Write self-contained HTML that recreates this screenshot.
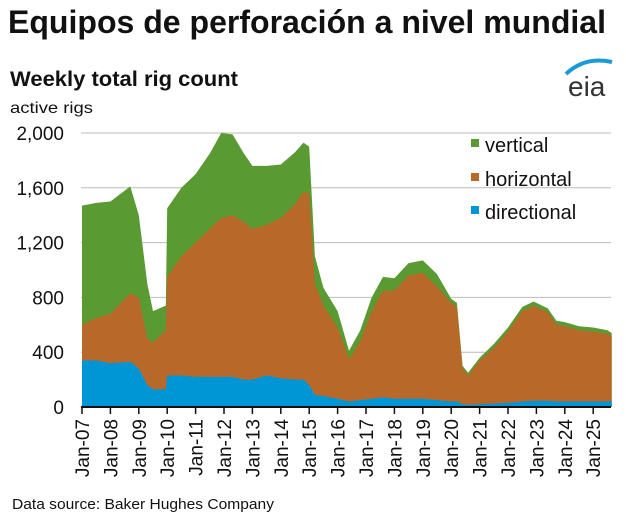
<!DOCTYPE html>
<html><head><meta charset="utf-8"><style>
body{margin:0;width:626px;height:517px;background:#fff;overflow:hidden;font-family:"Liberation Sans",Arial,sans-serif}
</style></head><body>
<svg id="s" width="626" height="517" xmlns="http://www.w3.org/2000/svg" font-family="Liberation Sans, Arial, sans-serif">
<text x="8" y="33" font-size="32" font-weight="bold" fill="#111" textLength="598" lengthAdjust="spacingAndGlyphs">Equipos de perforación a nivel mundial</text>
<text x="10" y="86" font-size="21" font-weight="bold" fill="#111" textLength="228" lengthAdjust="spacingAndGlyphs">Weekly total rig count</text>
<text x="10" y="113" font-size="16" fill="#111" textLength="83" lengthAdjust="spacingAndGlyphs">active rigs</text>
<text x="568" y="96" font-size="28" fill="#333">eia</text>
<path d="M566 74 Q585 56 612 62" stroke="#1a9ad6" stroke-width="4" fill="none"/>
<g id="grid" stroke="#bbb" stroke-width="1"></g>
<g id="areas"></g>
<g font-size="19" fill="#111" text-anchor="end" id="yl"></g>
<line x1="81" y1="407" x2="611" y2="407" stroke="#111" stroke-width="2"/>
<g id="xt"></g>
<rect x="471" y="139" width="8" height="8" fill="#5a9a32"/><text x="485" y="152" font-size="20" fill="#111">vertical</text>
<rect x="471" y="173" width="8" height="8" fill="#b8692a"/><text x="485" y="186" font-size="20" fill="#111">horizontal</text>
<rect x="471" y="206" width="8" height="8" fill="#0096d6"/><text x="485" y="219" font-size="20" fill="#111">directional</text>
<text x="12" y="509" font-size="15" fill="#111" textLength="262" lengthAdjust="spacingAndGlyphs">Data source: Baker Hughes Company</text>
</svg>
<script>
var NS="http://www.w3.org/2000/svg";
function Y(v){return 407-v*0.137}
function X(t){return 82+(t-2007)*28.4}
var d=[[2007,1470,600,340],[2007.5,1490,650,340],[2008,1500,680,320],[2008.7,1610,830,330],[2009,1400,800,280],[2009.3,900,500,160],[2009.5,700,470,130],[2009.95,740,560,130],[2010.0,1450,950,230],[2010.5,1600,1100,230],[2011,1700,1200,220],[2011.5,1850,1300,220],[2011.9,2000,1380,220],[2012.3,1990,1400,220],[2012.7,1850,1350,200],[2013,1760,1300,200],[2013.5,1760,1330,230],[2014,1770,1380,210],[2014.5,1860,1480,200],[2014.8,1930,1570,200],[2015,1900,1560,160],[2015.2,1100,900,90],[2015.5,870,740,80],[2016,700,580,60],[2016.4,410,350,40],[2016.8,560,480,50],[2017.2,800,700,60],[2017.6,950,850,70],[2018,940,850,60],[2018.5,1050,960,60],[2019,1070,980,60],[2019.5,970,880,50],[2020,790,760,40],[2020.2,760,730,40],[2020.4,300,280,20],[2020.6,250,230,15],[2021,360,340,20],[2021.5,460,430,25],[2022,580,550,30],[2022.5,730,700,40],[2022.9,770,740,45],[2023.4,720,690,45],[2023.7,630,600,40],[2024,620,590,40],[2024.5,590,560,40],[2025,580,550,40],[2025.5,560,535,40],[2025.65,540,520,45]];
function el(n,a,p){var e=document.createElementNS(NS,n);for(var k in a)e.setAttribute(k,a[k]);p.appendChild(e);return e}
var g=document.getElementById('grid');
for(var v=400;v<=2000;v+=400)el('line',{x1:81,x2:611,y1:Y(v),y2:Y(v)},g);
var yl=document.getElementById('yl');
for(var v=0;v<=2000;v+=400){var t=el('text',{x:64,y:Y(v)+7},yl);t.textContent=v.toLocaleString('en-US')}
var ar=document.getElementById('areas');
[[1,'#5a9a32'],[2,'#b8692a'],[3,'#0096d6']].forEach(function(c){
var p='M'+X(d[0][0])+' 407';d.forEach(function(r){p+=' L'+X(r[0]).toFixed(1)+' '+Y(r[c[0]]).toFixed(1)});
p+=' L'+X(d[d.length-1][0]).toFixed(1)+' 407Z';el('path',{d:p,fill:c[1]},ar)});
var xt=document.getElementById('xt');
for(var i=0;i<=18;i++){var x=X(2007+i);el('line',{x1:x,x2:x,y1:407,y2:414,stroke:'#111','stroke-width':1.5},xt);
var t=el('text',{x:0,y:0,'font-size':19,fill:'#111','text-anchor':'end',transform:'translate('+(x+7)+',419) rotate(-90)'},xt);t.textContent='Jan-'+String(7+i).padStart(2,'0')}
</script>
</body></html>
